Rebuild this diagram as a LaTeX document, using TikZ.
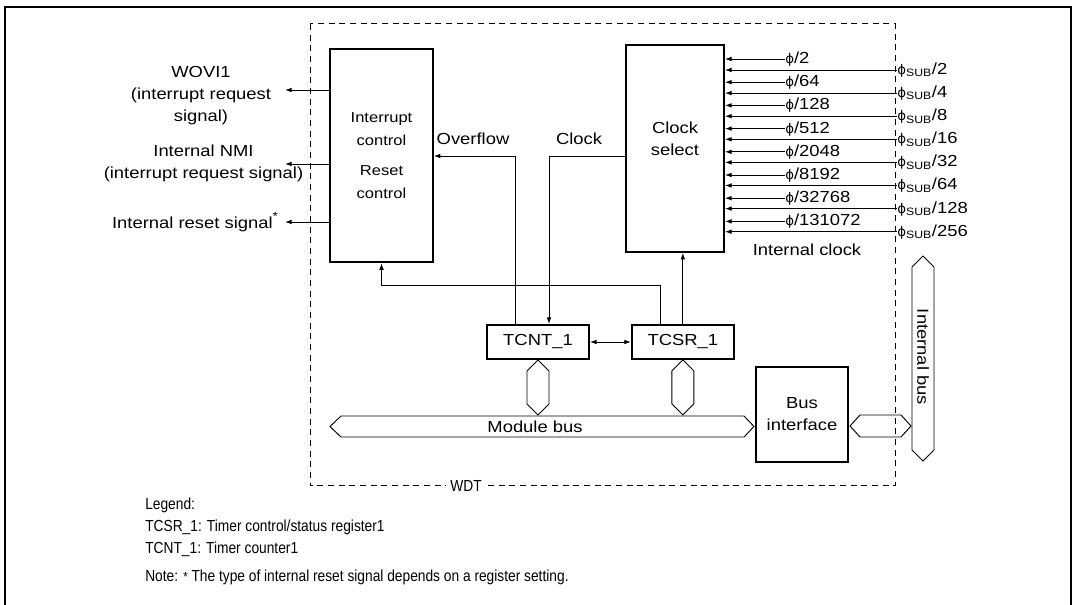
\documentclass[tikz,border=0pt]{standalone}
\usepackage{fontspec}
\setmainfont{Liberation Sans}[FakeStretch=1.15]
\newfontfamily\lgdfont{Liberation Sans}[FakeStretch=0.86]
\newfontfamily\phfont{DejaVu Sans}
\usetikzlibrary{arrows.meta, positioning, calc}

\newcommand\mainsz{\fontsize{12}{16.5}\selectfont}
\newcommand\boxsz{\fontsize{10.8}{17}\selectfont}
\newcommand\lgdsz{\lgdfont\fontsize{12}{16.5}\selectfont}
\newcommand\phisym{{\phfont\fontsize{10}{10}\selectfont ϕ}}
\newcommand\astmark{\raisebox{0.9ex}{\fontsize{9}{9}\selectfont *}}

\tikzset{
  blk/.style={rectangle, draw, line width=1.4pt, align=center,
    inner sep=0pt, font=\mainsz},
  reg/.style={blk, minimum width=76.5pt, minimum height=25.5pt},
  lbl/.style={align=center, inner sep=0pt, font=\mainsz},
  lgd/.style={align=left, inner sep=0pt, font=\lgdsz},
  arr/.style={-{Latex[length=5pt,width=3.5pt]}, line width=0.7pt},
  darr/.style={{Latex[length=5pt,width=3.5pt]}-{Latex[length=5pt,width=3.5pt]},
    line width=0.7pt},
  bus/.style={draw, line width=0.7pt},
  dashbox/.style={draw, line width=0.75pt, dash pattern=on 4.5pt off 3.5pt},
}

\begin{document}
\begin{tikzpicture}[x=0.75pt, y=-0.75pt]
  \useasboundingbox (0,0) rectangle (1074,605);
  \draw[line width=1.5pt] (5,7.5) rectangle (1071,615);

  \node[blk, minimum width=77pt, minimum height=160pt, font=\boxsz] (irq)
        at (381.5,155.5) {Interrupt\\control\\[5.5pt]Reset\\control};
  \node[blk, minimum width=73.5pt, minimum height=155pt,
        label={[lbl, yshift=7.5pt]center:Clock\\select}] (clk) at (675,148.5) {};
  \node[reg] (tcnt) at (538,342) {TCNT\_1};
  \node[reg, right=30.75pt of tcnt] (tcsr) {TCSR\_1};
  \node[blk, minimum width=69pt, minimum height=71pt] (bif)
        at (802,414.5) {Bus\\interface};

  \coordinate (o1) at (285,90);
  \coordinate (o2) at (285,164);
  \coordinate (o3) at (285,222);
  \foreach \o in {o1,o2,o3}
    \draw[arr] (irq.west |- \o) -- (\o);
  \node[lbl] (wovi) at (201,96) {WOVI1\\(interrupt request\\signal)};
  \node[lbl] (nmi) at (203.5,163.5) {Internal NMI\\(interrupt request signal)};
  \node[lbl, left=5pt of o3] (rst) {Internal reset signal\astmark};

  \coordinate (lvl) at (0,156);
  \coordinate (rl) at (0,285.5);
  \draw[arr] ([xshift=-17.25pt]tcnt.north) |- (irq.east |- lvl);
  \draw[arr] (clk.west |- lvl) -| ([xshift=8.25pt]tcnt.north);
  \draw[arr] ([xshift=-16.5pt]tcsr.north) |- (rl -| irq.south) -- (irq.south);
  \draw[arr] (tcsr.north) -- (tcsr.north |- clk.south);
  \draw[darr] (tcnt) -- (tcsr);
  \node[lbl] (ovf) at (473,139) {Overflow};
  \node[lbl] (clklbl) at (579,139) {Clock};

  \foreach \v [count=\k from 0] in {2,64,128,512,2048,8192,32768,131072}{
    \node[lbl, anchor=west] (ph\k) at (785,59+23.2*\k) {\phisym/\v};
    \draw[arr] (ph\k.west) -- (clk.east |- ph\k.west);
  }
  \foreach \v [count=\k from 0] in {2,4,8,16,32,64,128,256}{
    \node[lbl, anchor=west] (sub\k) at (897,70+23.1*\k)
          {\phisym\textsubscript{SUB}/\v};
    \draw[arr] (sub\k.west) -- (clk.east |- sub\k.west);
  }
  \node[lbl] (intclk) at (807,250) {Internal clock};

  \foreach \r in {tcnt,tcsr}
    \draw[bus] (\r.south) -- ++(-8.25pt,-8.25pt) -- ++(0,-24.75pt)
      -- ++(8.25pt,-8.25pt) -- ++(8.25pt,8.25pt) -- ++(0,24.75pt) -- cycle;
  \draw[bus] (330,426.5) -- (341,416) -- (744,416) -- (754,426.5)
    -- (744,437) -- (341,437) -- cycle;
  \node[lbl] (mbus) at (535,426.5) {Module bus};
  \draw[bus] (850,426) -- (860,415) -- (901,415) -- (911,426)
    -- (901,437) -- (860,437) -- cycle;
  \draw[bus] (923,256) -- (934,267) -- (934,450) -- (923,461)
    -- (912,450) -- (912,267) -- cycle;
  \node[lbl, rotate=-90] (ibus) at (923,357) {Internal bus};

  \draw[dashbox] (310,24) rectangle (895,486);
  \node[lgd, fill=white, inner xsep=3pt, inner ysep=1pt] (wdt) at (466,486) {WDT};

  \node[lgd, anchor=west] (legend) at (145,541)
       {Legend:\\TCSR\_1: Timer control/status register1\\TCNT\_1: Timer counter1\\[4.5pt]
        Note: {\fontsize{10}{10}\selectfont *} The type of internal reset signal depends on a register setting.};
\end{tikzpicture}
\end{document}
